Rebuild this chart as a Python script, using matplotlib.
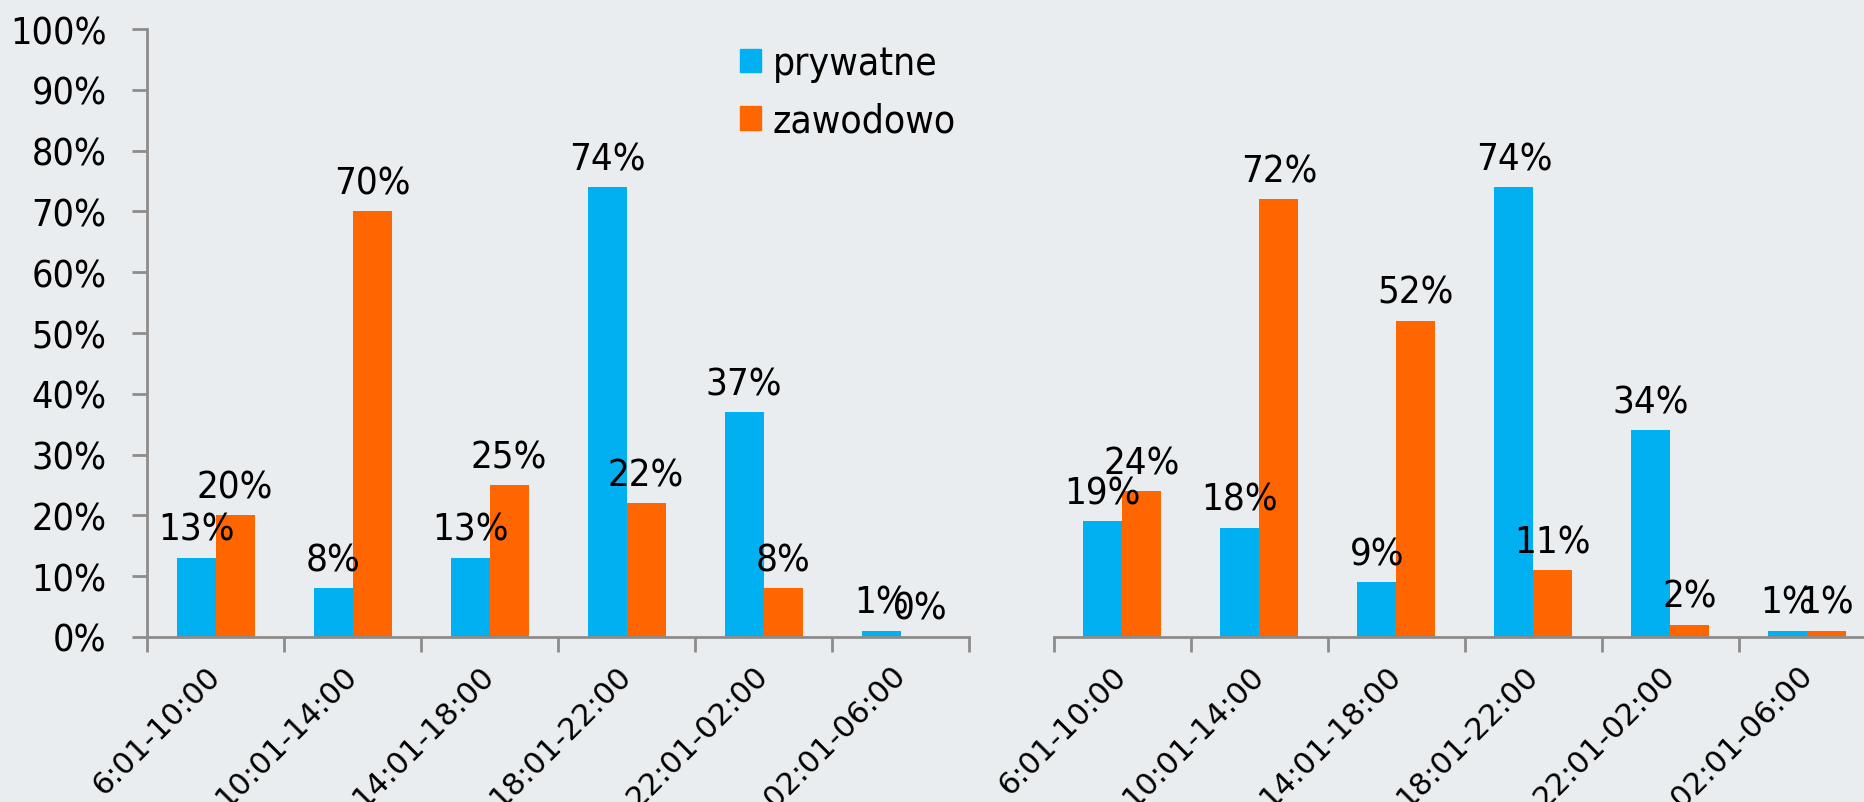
import numpy as np
import matplotlib
matplotlib.use('Agg')
import matplotlib.pyplot as plt
from matplotlib.patches import Patch

# dane
przedzialy = ['6:01-10:00', '10:01-14:00', '14:01-18:00', '18:01-22:00', '22:01-02:00', '02:01-06:00']
prywatne_1 = [13, 8, 13, 74, 37, 1]
zawodowo_1 = [20, 70, 25, 22, 8, 0]
prywatne_2 = [19, 18, 9, 74, 34, 1]
zawodowo_2 = [24, 72, 52, 11, 2, 1]

kolor_pryw = '#00B0F0'
kolor_zaw = '#FF6600'
tlo = '#E9EDEF'
szary = '#8C8C8C'

plt.rcParams['font.family'] = ['DejaVu Sans']
plt.rcParams['font.stretch'] = 'condensed'

fig = plt.figure(figsize=(18.64, 8.03), dpi=100, facecolor=tlo)
ax1 = fig.add_axes([0.0789, 0.2055, 0.441, 0.757])
ax2 = fig.add_axes([0.5654, 0.2055, 0.441, 0.757])

x = np.arange(len(przedzialy))
w = 0.285
fs = 27.5

for ax, pryw, zaw in [(ax1, prywatne_1, zawodowo_1), (ax2, prywatne_2, zawodowo_2)]:
    ax.set_facecolor(tlo)
    b1 = ax.bar(x - w / 2, pryw, w, color=kolor_pryw)
    b2 = ax.bar(x + w / 2, zaw, w, color=kolor_zaw)
    for bars, vals in [(b1, pryw), (b2, zaw)]:
        for b, v in zip(bars, vals):
            ax.annotate(f'{v}%', (b.get_x() + b.get_width() / 2, v),
                        xytext=(0, 10), textcoords='offset pixels',
                        ha='center', va='bottom', fontsize=fs)
    ax.set_xlim(-0.5, 5.5)
    ax.set_ylim(0, 100)
    for s in ['top', 'right']:
        ax.spines[s].set_visible(False)
    ax.spines['bottom'].set_color(szary)
    ax.spines['bottom'].set_linewidth(2)
    ax.spines['left'].set_color(szary)
    ax.spines['left'].set_linewidth(2)
    ax.set_xticks(x)
    ax.set_xticklabels(przedzialy, rotation=45, ha='right', va='center',
                       rotation_mode='anchor', fontsize=22, fontstretch='normal')
    ax.set_xticks(np.arange(-0.5, 6, 1), minor=True)
    ax.tick_params(axis='x', which='major', length=0, pad=24)
    ax.tick_params(axis='x', which='minor', length=11, width=2, color=szary)

ax1.set_yticks(range(0, 101, 10))
ax1.set_yticklabels([f'{v}%' for v in range(0, 101, 10)], fontsize=27)
ax1.tick_params(axis='y', length=11, width=2, color=szary, pad=18)

ax2.spines['left'].set_visible(False)
ax2.set_yticks([])

handles = [Patch(color=kolor_pryw, label='prywatne'), Patch(color=kolor_zaw, label='zawodowo')]
fig.legend(handles=handles, loc='upper left', bbox_to_anchor=(0.378, 0.987),
           frameon=False, fontsize=28, handlelength=0.55, handleheight=0.55,
           handletextpad=0.3, labelspacing=0.5)

fig.savefig('out.png', dpi=100, facecolor=tlo)
